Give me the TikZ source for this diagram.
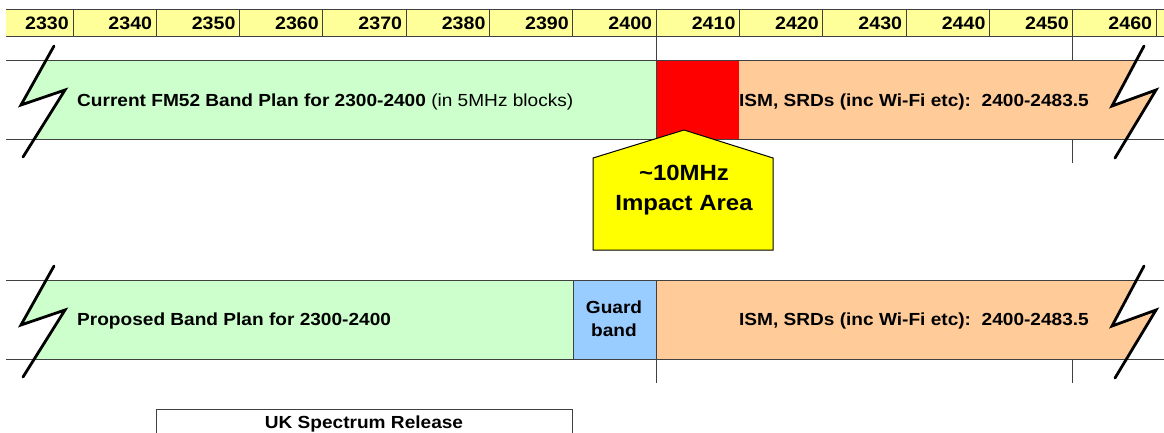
\documentclass[tikz,border=0pt]{standalone}
\usepackage{fontspec}
\setmainfont{Liberation Sans}[FakeStretch=1.09]
\definecolor{hdr}{HTML}{FFFF99}
\definecolor{plan}{HTML}{CCFFCC}
\definecolor{impact}{HTML}{FF0000}
\definecolor{ism}{HTML}{FFCC99}
\definecolor{guard}{HTML}{99CCFF}
\definecolor{callout}{HTML}{FFFF00}
\begin{document}
\begin{tikzpicture}[x=1pt,y=-1pt,
  grid/.style={draw=black!75,line width=1},
  zig/.style={line width=2.8,line cap=round},
  lbl/.style={font=\fontsize{17.5}{23}\selectfont\bfseries,inner sep=0},
  yr/.style={lbl,font=\fontsize{18}{20}\selectfont\bfseries,anchor=base east}]
  \useasboundingbox (0,0) rectangle (1164,432);

  \fill[hdr] (6,9) rectangle (1164,36);
  \draw[grid] (6,9) -- (1164,9) (6,36) -- (1164,36);
  \foreach \f [count=\i from 0] in {2330,2340,...,2460}{
    \draw[grid] (73+83.33*\i,9) -- (73+83.33*\i,36);
    \node[yr] (f\f) at (69+83.33*\i,29.3) {\f};
  }

  \begin{scope}
    \clip (54,46) -- (21,105) -- (65,90) -- (23,157) -- (1115,158) -- (1156,90) -- (1112,106) -- (1144,46) -- cycle;
    \fill[plan] (0,60) rectangle (656,139);
    \fill[impact] (656,60) rectangle (739,139);
    \fill[ism] (739,60) rectangle (1164,139);
  \end{scope}
  \draw[grid] (6,60) -- (1164,60) (6,139) -- (1164,139);
  \draw[grid] (656,36) -- (656,139) (1072,36) -- (1072,60) (1072,139) -- (1072,163);
  \draw[zig] (54,46) -- (21,105) -- (65,90) -- (23,157);
  \draw[zig] (1144,46) -- (1112,106) -- (1156,90) -- (1115,158);
  \node[lbl,anchor=base west] (cur) at (77,106.7) {Current FM52 Band Plan for 2300-2400 {\mdseries (in 5MHz blocks)}};
  \node[lbl,anchor=base east] (ismA) at (1089,106.7) {ISM, SRDs (inc Wi-Fi etc):\ \ 2400-2483.5};

  \draw[line width=1,fill=callout] (684,130) -- (773,158) -- (773,250) -- (593,250) -- (593,158) -- cycle;
  \node[lbl,font=\fontsize{22}{30}\selectfont\bfseries,align=center] (area) at (684,190) {\textasciitilde10MHz\\Impact Area};

  \begin{scope}
    \clip (54,266) -- (21,325) -- (65,310) -- (23,377) -- (1115,378) -- (1156,310) -- (1112,326) -- (1144,266) -- cycle;
    \fill[plan] (0,280) rectangle (573,359);
    \fill[guard] (573,280) rectangle (656,359);
    \fill[ism] (656,280) rectangle (1164,359);
  \end{scope}
  \draw[grid] (6,280) -- (1164,280) (6,359) -- (1164,359);
  \draw[grid] (573,280) -- (573,359) (656,280) -- (656,383) (1072,359) -- (1072,383);
  \draw[zig] (54,266) -- (21,325) -- (65,310) -- (23,377);
  \draw[zig] (1144,266) -- (1112,326) -- (1156,310) -- (1115,378);
  \node[lbl,anchor=base west] (prop) at (77,325.3) {Proposed Band Plan for 2300-2400};
  \node[lbl,align=center] (gb) at (614,318.5) {Guard\\band};
  \node[lbl,anchor=base east] (ismB) at (1089,325.3) {ISM, SRDs (inc Wi-Fi etc):\ \ 2400-2483.5};

  \draw[grid] (156,433) -- (156,409) -- (572,409) -- (572,433);
  \node[lbl,anchor=base] (uk) at (364,428.3) {UK Spectrum Release};
\end{tikzpicture}
\end{document}
